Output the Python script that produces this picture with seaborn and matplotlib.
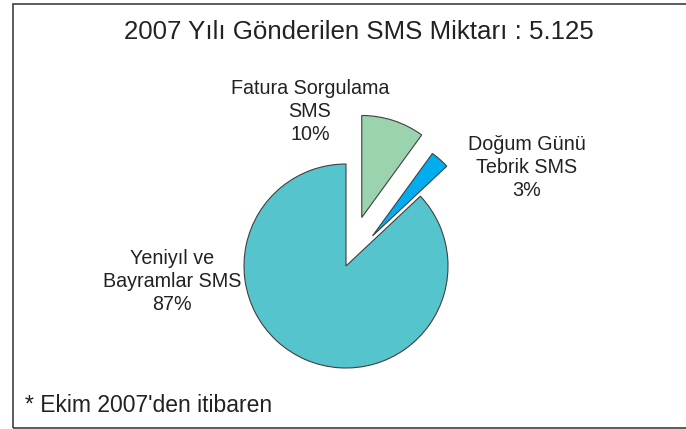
import matplotlib
matplotlib.use("Agg")
import matplotlib.pyplot as plt
import matplotlib.patches as mpatches
import seaborn as sns

# data
names = ["Fatura Sorgulama\nSMS", "Doğum Günü\nTebrik SMS", "Yeniyıl ve\nBayramlar SMS"]
shares = [10, 3, 87]
colors = ["#9AD3AE", "#00AEEF", "#55C4CD"]
title = "2007 Yılı Gönderilen SMS Miktarı : 5.125"
note = "* Ekim 2007'den itibaren"

sns.set_theme(style="white")
plt.rcParams['font.family'] = ['Liberation Sans', 'DejaVu Sans']

fig = plt.figure(figsize=(6.86, 4.29), dpi=100)
ax = fig.add_axes([0, 0, 1, 1])

# pie in pixel-like units (explode is absolute in these units)
ax.pie(shares, colors=colors, startangle=90, counterclock=False,
       explode=[51, 40, 0], radius=102, center=(346, 163),
       wedgeprops=dict(edgecolor='#404040', linewidth=0.8),
       frame=True)
ax.set_xlim(0, 686)
ax.set_ylim(0, 429)
ax.set_aspect('equal')
ax.axis('off')

# labels (anchored at baseline of last line)
label_pos = [(310, 289), (527, 233), (172, 119)]
for (x, y), n, s in zip(label_pos, names, shares):
    ax.text(x, y, f"{n}\n{s}%", ha='center', va='baseline', fontsize=14.2,
            color='#222222', linespacing=1.25)

ax.text(359, 390, title, ha='center', va='baseline', fontsize=18.6, color='#222222')
ax.text(25, 17, note, ha='left', va='baseline', fontsize=16.5, color='#222222')

fig.add_artist(mpatches.Rectangle((13 / 686, 1 / 429), 1, 424 / 429,
                                  transform=fig.transFigure, fill=False,
                                  edgecolor='#404040', linewidth=1.2))

fig.savefig("out.png", dpi=100)
